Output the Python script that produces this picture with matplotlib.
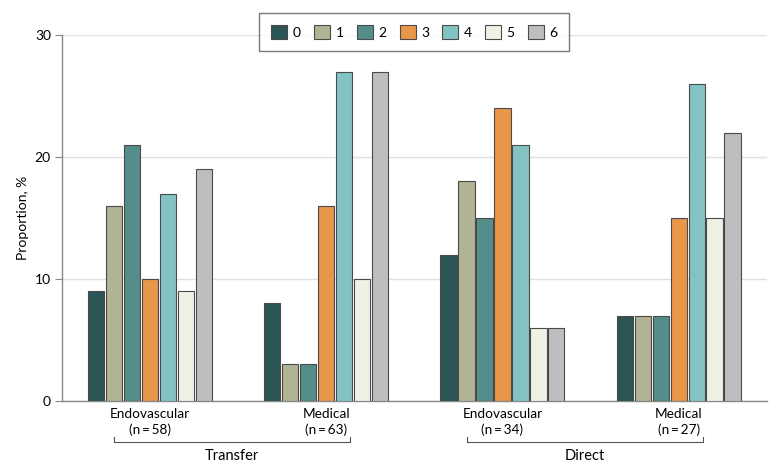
import numpy as np
import matplotlib
matplotlib.use('Agg')
import matplotlib.pyplot as plt
from matplotlib.patches import Patch

plt.rcParams['font.family'] = ['Lato', 'DejaVu Sans']

# Datos
grupos = ['Endovascular\n(n\u2009=\u200958)', 'Medical\n(n\u2009=\u200963)',
          'Endovascular\n(n\u2009=\u200934)', 'Medical\n(n\u2009=\u200927)']
puntuaciones = ['0', '1', '2', '3', '4', '5', '6']
valores = [
    [9, 8, 12, 7],     # 0
    [16, 3, 18, 7],    # 1
    [21, 3, 15, 7],    # 2
    [10, 16, 24, 15],  # 3
    [17, 27, 21, 26],  # 4
    [9, 10, 6, 15],    # 5
    [19, 27, 6, 22],   # 6
]
colores = ['#2b5454', '#b1b394', '#558d8b', '#e8964a', '#83c3c3', '#f0f1e5', '#bebebe']
tipos = ['Transfer', 'Direct']

fig = plt.figure(figsize=(7.8, 4.72), dpi=100)
ax = fig.add_axes([0.0795, 0.1504, 0.9035, 0.7754])

x = np.arange(len(grupos))
paso = 0.102
ancho = 0.092
for i, (v, c) in enumerate(zip(valores, colores)):
    ax.bar(x + (i - 3) * paso, v, width=ancho, color=c, edgecolor='#4a4a4a',
           linewidth=0.8, zorder=3, label=puntuaciones[i])

ax.set_xlim(-0.5, 3.5)
ax.set_ylim(0, 30)
ax.set_yticks([0, 10, 20, 30])
ax.yaxis.grid(True, color='#e0e0e0', linewidth=1.0, zorder=0)
ax.set_xticks(x)
ax.set_xticklabels(grupos, fontsize=9.8, linespacing=1.3)
ax.tick_params(axis='x', length=0, pad=5)
ax.tick_params(axis='y', length=5, color='#888888', labelsize=10, pad=3)
for s in ['top', 'right']:
    ax.spines[s].set_visible(False)
for s in ['left', 'bottom']:
    ax.spines[s].set_color('#888888')
    ax.spines[s].set_linewidth(1.0)
ax.set_ylabel('Proportion, %', fontsize=10, labelpad=4)

# Corchetes de Transfer / Direct
for k, t in enumerate(tipos):
    x0 = 2 * k - 0.204
    x1 = 2 * k + 1 + 0.136
    yb = -0.112
    yt = -0.097
    ax.plot([x0, x0, x1, x1], [yt, yb, yb, yt], color='#555555', linewidth=0.8,
            transform=ax.get_xaxis_transform(), clip_on=False)
    ax.text((x0 + x1) / 2, -0.13, t, ha='center', va='top', fontsize=10.5,
            transform=ax.get_xaxis_transform())

handles = [Patch(facecolor=c, edgecolor='#4a4a4a', linewidth=0.8) for c in colores]
leg = ax.legend(handles, puntuaciones, loc='center', bbox_to_anchor=(0.5, 1.008), ncol=7,
                frameon=True, fancybox=False, edgecolor='#555555', fontsize=10,
                handlelength=1.15, handleheight=1.15, handletextpad=0.4, columnspacing=0.95,
                borderpad=0.85)
leg.get_frame().set_linewidth(1.0)
leg.set_zorder(5)

fig.savefig('out.png', dpi=100, facecolor='white')
